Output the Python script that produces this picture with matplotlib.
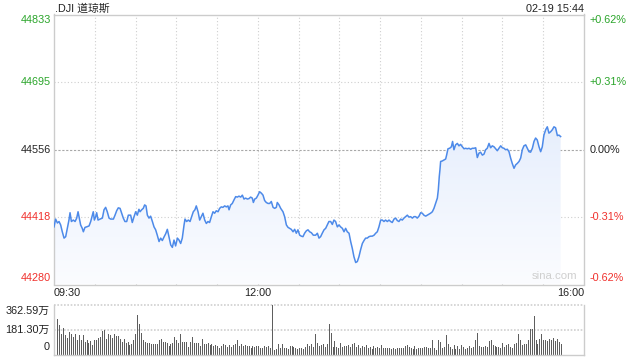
import numpy as np
import matplotlib
matplotlib.use('Agg')
import matplotlib.pyplot as plt
from matplotlib.patches import Polygon
from matplotlib.colors import LinearSegmentedColormap
import matplotlib.transforms as mtransforms

plt.rcParams['font.family'] = ['Liberation Sans', 'Noto Sans CJK SC', 'DejaVu Sans']

# ---------------- data ----------------
title = '.DJI 道琼斯'
stamp = '02-19 15:44'
prev_close = 44556
price_ticks = [44280, 44418, 44556, 44695, 44833]
pct_labels = ['-0.62%', '-0.31%', '0.00%', '+0.31%', '+0.62%']
x_tick_minutes = [0, 150, 390]
x_tick_labels = ['09:30', '12:00', '16:00']
vol_ticks = [0, 181.30, 362.59]
vol_labels = ['0', '181.30万', '362.59万']

# minutes since 09:30
minutes = [
    0.0, 1.2, 2.5, 3.7, 4.9, 6.1, 7.4, 8.6, 9.8, 11.0,
    11.8, 12.8, 14.2, 15.5, 16.7, 17.7, 18.6, 19.6, 20.8, 21.6,
    22.8, 24.0, 25.8, 27.0, 28.2, 28.9, 29.7, 30.7, 31.4, 32.4,
    33.9, 35.6, 36.8, 38.0, 39.2, 40.5, 41.7, 43.7, 44.9, 46.1,
    47.3, 48.6, 49.8, 51.0, 52.2, 53.5, 54.7, 56.4, 57.6, 58.9,
    60.1, 61.3, 62.5, 63.3, 64.5, 65.7, 66.7, 67.7, 68.7, 69.9,
    71.1, 72.4, 73.6, 74.8, 76.0, 77.3, 78.5, 79.7, 80.9, 82.2,
    83.4, 84.6, 85.9, 87.1, 88.3, 89.5, 90.8, 92.0, 93.2, 94.4,
    95.7,
    96.4, 97.6, 98.8, 100.1, 101.3, 102.5, 103.7, 104.7, 106.0, 107.2,
    108.4, 109.6, 110.9, 112.1, 113.3, 114.5, 115.8, 117.0, 118.2, 119.4,
    120.7, 121.9, 123.1, 124.3, 125.6, 126.8, 128.0, 128.8, 130.0, 131.2,
    132.4, 133.7, 134.9, 136.1, 137.4, 138.6, 139.8, 141.0, 142.3, 143.5,
    144.7, 145.9, 146.7, 147.7, 148.9, 150.1, 151.3, 152.6, 153.8, 155.0,
    156.2, 157.5, 158.7, 159.9, 161.2, 162.4, 163.6, 164.3, 165.6, 166.8,
    168.5, 169.7, 171.0, 172.2, 173.4, 174.6, 175.9, 177.1, 178.3, 179.5,
    180.8, 182.0, 183.2, 184.4, 185.7, 186.9, 188.1, 189.4, 190.8,
    192.5, 193.8, 195.0, 196.2, 197.4, 198.7, 199.9, 201.1, 202.3, 203.6,
    204.8, 206.0, 207.2, 208.5, 209.7, 210.9, 212.2, 213.4, 214.6, 215.8,
    217.1, 218.3, 219.5, 220.7, 222.0, 223.2, 224.4, 225.6, 226.9, 228.1,
    229.3, 230.5, 231.8, 233.0, 234.2, 235.5, 236.7, 237.9, 239.1, 240.4,
    241.6, 242.8, 244.0, 245.3, 246.5, 247.7, 248.9, 250.2, 251.4, 252.6,
    253.8, 255.1, 256.3, 257.5, 258.8, 260.0, 261.2, 262.4, 263.7, 264.9,
    266.1, 267.3, 268.6, 269.8, 271.0, 272.2, 273.5, 274.7, 275.9, 277.1,
    278.4, 279.6, 280.8, 282.1, 282.8, 283.5, 284.0,
    284.5, 285.7, 287.0, 288.2, 288.9, 289.9, 291.1, 292.4, 293.3, 294.3,
    295.5, 296.8, 298.0, 299.2, 300.5, 301.7, 302.9, 304.1, 305.4, 306.6,
    307.8, 309.0, 310.3, 311.5, 312.7, 313.9, 315.2, 316.4, 317.6, 318.8,
    320.1, 321.3, 322.5, 323.8, 325.0, 326.2, 327.4, 328.7, 329.9, 331.1,
    332.3, 333.6, 334.8, 336.0, 337.2, 338.5, 339.7, 340.9, 342.2, 343.4,
    344.6, 345.8, 347.1, 348.3, 349.5, 350.7, 352.0, 353.2, 354.4, 355.6,
    356.9, 358.1, 359.3, 360.5, 361.8, 363.0, 364.2, 365.5, 366.7, 367.9,
    369.1, 370.4, 371.6, 372.8,
]

prices = [
    44398, 44414, 44406, 44409, 44402, 44388, 44375, 44378, 44395, 44412,
    44427, 44409, 44412, 44409, 44416, 44429, 44416, 44402, 44395, 44388,
    44397, 44398, 44400, 44409, 44422, 44429, 44412, 44419, 44427, 44412,
    44414, 44416, 44433, 44438, 44429, 44416, 44414, 44414, 44422, 44431,
    44437, 44436, 44426, 44416, 44409, 44409, 44422, 44422, 44407, 44419,
    44429, 44422, 44434, 44429, 44433, 44436, 44443, 44441, 44422, 44416,
    44420, 44409, 44398, 44392, 44381, 44368, 44375, 44370, 44377, 44384,
    44393, 44378, 44361, 44356, 44371, 44359, 44375, 44371, 44364, 44375,
    44402,
    44414, 44409, 44412, 44409, 44419, 44429, 44433, 44441, 44429, 44412,
    44419, 44426, 44412, 44405, 44409, 44407, 44419, 44429, 44426, 44431,
    44429, 44436, 44439, 44438, 44441, 44439, 44441, 44433, 44443, 44446,
    44453, 44460, 44459, 44461, 44459, 44463, 44455, 44457, 44455, 44456,
    44459, 44457, 44448, 44455, 44457, 44463, 44470, 44467, 44463, 44452,
    44448, 44446, 44446, 44450, 44438, 44436, 44438, 44448, 44443, 44436,
    44429, 44419, 44402, 44397, 44395, 44393, 44388, 44393, 44385, 44392,
    44381, 44379, 44378, 44385, 44390, 44392, 44388, 44386, 44381,
    44381, 44385, 44375, 44378, 44385, 44392, 44395, 44402, 44409, 44409,
    44403, 44412, 44409, 44398, 44402, 44398, 44395, 44388, 44395, 44388,
    44385, 44368, 44354, 44337, 44325, 44327, 44337, 44351, 44364, 44370,
    44375, 44375, 44378, 44379, 44379, 44381, 44385, 44388, 44398, 44412,
    44412, 44409, 44412, 44409, 44412, 44409, 44407, 44414, 44416, 44411,
    44409, 44414, 44412, 44416, 44419, 44422, 44418, 44419, 44416, 44419,
    44419, 44416, 44420, 44427, 44426, 44422, 44420, 44422, 44424, 44426,
    44429, 44436, 44446, 44457, 44474, 44501, 44515,
    44532, 44533, 44535, 44537, 44545, 44558, 44559, 44562, 44573, 44556,
    44566, 44569, 44564, 44567, 44562, 44558, 44559, 44558, 44559, 44557,
    44559, 44559, 44560, 44540, 44549, 44551, 44545, 44547, 44556, 44559,
    44569, 44560, 44564, 44562, 44558, 44554, 44559, 44564, 44560, 44559,
    44556, 44557, 44552, 44539, 44528, 44518, 44525, 44528, 44532, 44539,
    44556, 44564, 44566, 44559, 44552, 44551, 44559, 44573, 44580, 44576,
    44562, 44552, 44562, 44586, 44597, 44603, 44590, 44593, 44597, 44603,
    44601, 44585, 44586, 44583,
]

# volume in 万
volumes = [
    260, 215, 153, 197, 141, 121, 163, 153, 128, 153,
    109, 141, 109, 141, 91, 104, 84, 99, 72, 109,
    104, 123, 128, 173, 178, 116, 153, 141, 121, 148,
    133, 133, 116, 91, 116, 84, 91, 72, 79, 109,
    153, 289, 227, 158, 109, 91, 84, 84, 79, 79,
    79, 79, 109, 116, 91, 91, 84, 59, 79, 84,
    128, 109, 84, 153, 91, 91, 91, 54, 91, 128,
    84, 84, 84, 59, 116, 79, 74, 84, 72, 74,
    59, 67, 59, 49, 59, 74, 67, 54, 67, 54,
    67, 74, 109, 59, 74, 59, 67, 62, 62, 49,
    59, 54, 59, 62, 49, 49, 62, 54, 59, 49,
    362, 35, 42, 79, 49, 74, 49, 49, 42, 59,
    59, 54, 49, 42, 49, 49, 42, 54, 79, 59,
    79, 54, 148, 84, 59, 67, 74, 54, 74, 222,
    158, 54, 96, 54, 49, 86, 54, 59, 59, 72,
    54, 74, 86, 54, 67, 49, 62, 54, 67, 49,
    54, 42, 59, 47, 54, 49, 67, 47, 47, 49,
    47, 42, 47, 37, 47, 47, 49, 49, 59, 67,
    54, 49, 42, 59, 42, 47, 47, 47, 54, 54,
    47, 49, 109, 49, 35, 104, 91, 49, 54, 141,
    74, 54, 42, 67, 42, 59, 42, 67, 54, 42,
    47, 59, 49, 54, 109, 158, 59, 54, 54, 59,
    54, 96, 109, 72, 59, 54, 54, 49, 86, 54,
    67, 79, 54, 49, 74, 84, 148, 109, 67, 79,
    79, 109, 190, 190, 281, 104, 79, 116, 148, 109,
    104, 96, 116, 104, 123, 99, 116, 91, 79,
]

# ---------------- style ----------------
GREEN = '#2aa52a'
RED = '#f0302c'
DARK = '#222222'
LINE = '#4d8ae9'
BORDER = '#cccccc'
GRID = '#cfcfcf'
FS = 7.8

W, H = 640, 360
fig = plt.figure(figsize=(W / 100, H / 100), dpi=100)


def rect(l, t, r, b):
    return [l / W, 1 - b / H, (r - l) / W, (b - t) / H]


# ---------------- price axes ----------------
ax = fig.add_axes(rect(54, 14.5, 584, 284.5))
ax.set_xlim(0, 390)
ax.set_ylim(price_ticks[0], price_ticks[-1])
ax.set_xticks([])
ax.set_yticks([])
for s in ax.spines.values():
    s.set_color(BORDER)
    s.set_linewidth(1.0)

for k in range(1, 13):
    ax.axvline(k * 30, color=GRID, lw=0.8, ls=(0, (1, 2)), zorder=1)
for p in price_ticks[1:-1]:
    if p == prev_close:
        ax.axhline(p, color='#a8a8a8', lw=0.8, ls=(0, (2, 1.5)), zorder=1)
    else:
        ax.axhline(p, color=GRID, lw=0.8, ls=(0, (1, 2)), zorder=1)

# gradient fill under line
m = np.array(minutes)
pr = np.array(prices)
verts = [(m[0], price_ticks[0])] + list(zip(m, pr)) + [(m[-1], price_ticks[0])]
poly = Polygon(verts, closed=True, facecolor='none', edgecolor='none')
ax.add_patch(poly)
cmap = LinearSegmentedColormap.from_list('g', ['#fbfcff', '#d8e5fb'])
grad = np.linspace(0, 1, 256).reshape(-1, 1)
im = ax.imshow(grad, extent=[0, 390, price_ticks[0], price_ticks[-1]],
               origin='lower', aspect='auto', cmap=cmap, zorder=2)
im.set_clip_path(poly)
ax.plot(m, pr, color=LINE, lw=1.1, zorder=3)

ytr = ax.get_yaxis_transform()
for i, (p, lab) in enumerate(zip(price_ticks, pct_labels)):
    col = GREEN if p > prev_close else (RED if p < prev_close else DARK)
    va = 'bottom' if i == 0 else ('top' if i == len(price_ticks) - 1 else 'center')
    dy = 1 if i == 0 else (-1 if i == len(price_ticks) - 1 else 0)
    off = mtransforms.offset_copy(ytr, fig=fig, x=-3, y=dy, units='dots')
    ax.text(0, p, str(p), transform=off, ha='right', va=va, color=col, fontsize=FS)
    off2 = mtransforms.offset_copy(ytr, fig=fig, x=6, y=dy, units='dots')
    ax.text(1, p, lab, transform=off2, ha='left', va=va, color=col, fontsize=FS)

xtr = ax.get_xaxis_transform()
for mm, lab, ha in zip(x_tick_minutes, x_tick_labels, ['left', 'center', 'right']):
    off = mtransforms.offset_copy(xtr, fig=fig, x=0, y=-4, units='dots')
    ax.text(mm, 0, lab, transform=off, ha=ha, va='top', color=DARK, fontsize=FS)

ax.text(0.987, 0.012, 'sina.com', transform=ax.transAxes, ha='right', va='bottom',
        color='#cfcfcf', fontsize=8.2)

fig.text(55 / W, 1 - 8.5 / H, title, ha='left', va='center', color=DARK, fontsize=FS)
fig.text(584 / W, 1 - 8.5 / H, stamp, ha='right', va='center', color=DARK, fontsize=FS)

# ---------------- volume axes ----------------
vax = fig.add_axes(rect(54, 305, 584, 354.5))
vax.set_xlim(0, 390)
vax.set_ylim(0, vol_ticks[-1])
vax.set_xticks([])
vax.set_yticks([])
for k, s in vax.spines.items():
    s.set_color(BORDER)
    s.set_linewidth(1.0)
vax.spines['top'].set_visible(False)
vax.axhline(vol_ticks[-1], color=GRID, lw=1.2, ls=(0, (1, 1)), clip_on=False, zorder=1)
vax.axhline(vol_ticks[1], color=GRID, lw=1.2, ls=(0, (1, 1)), zorder=1)
vpos = np.linspace(2.4, 373.0, len(volumes))
vax.vlines(vpos, 0, volumes, colors='#5e5e5e', linewidth=0.7, antialiased=False, zorder=2)

vtr = vax.get_yaxis_transform()
for i, (v, lab) in enumerate(zip(vol_ticks, vol_labels)):
    va = 'bottom' if i == 0 else ('top' if i == len(vol_ticks) - 1 else 'center')
    dy = 2 if i == 0 else (-1 if i == len(vol_ticks) - 1 else 0)
    off = mtransforms.offset_copy(vtr, fig=fig, x=-4, y=dy, units='dots')
    vax.text(0, v, lab, transform=off, ha='right', va=va, color=DARK, fontsize=FS)

fig.savefig('out.png', dpi=100)
